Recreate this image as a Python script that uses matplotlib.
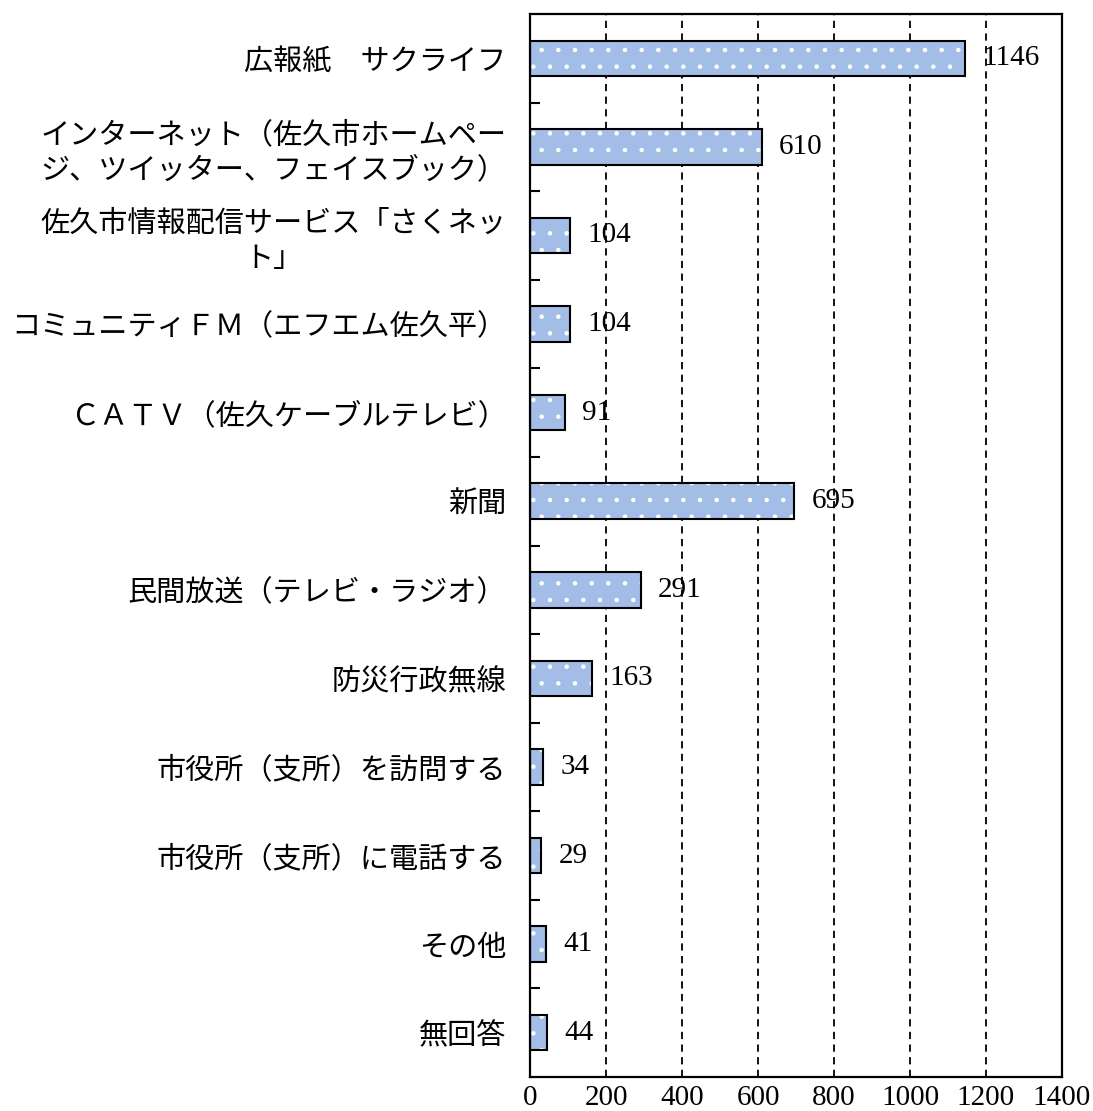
import numpy as np
import matplotlib.pyplot as plt
from matplotlib.ticker import FixedLocator

plt.rcParams['font.family'] = ['Liberation Serif', 'Noto Sans CJK JP']
plt.rcParams['hatch.linewidth'] = 0.8

# 情報の入手方法（複数回答）
categories = [
    "広報紙　サクライフ",
    "インターネット（佐久市ホームペー\nジ、ツイッター、フェイスブック）",
    "佐久市情報配信サービス「さくネッ\nト」",
    "コミュニティＦＭ（エフエム佐久平）",
    "ＣＡＴＶ（佐久ケーブルテレビ）",
    "新聞",
    "民間放送（テレビ・ラジオ）",
    "防災行政無線",
    "市役所（支所）を訪問する",
    "市役所（支所）に電話する",
    "その他",
    "無回答",
]
counts = [1146, 610, 104, 104, 91, 695, 291, 163, 34, 29, 41, 44]
xticks = [0, 200, 400, 600, 800, 1000, 1200, 1400]

fig = plt.figure(figsize=(10.93, 11.11), dpi=100)
ax = fig.add_axes([0.485, 0.0306, 0.4866, 0.9568])

y = np.arange(len(categories))
# pattern fill, then black outline on top
ax.barh(y, counts, height=0.4, color='#a3bde7', edgecolor='white',
        hatch='.', linewidth=0, zorder=2)
ax.barh(y, counts, height=0.4, fill=False, edgecolor='black',
        linewidth=1.5, zorder=3)

for yi, v in zip(y, counts):
    ax.annotate(str(v), (v, yi), xytext=(12.5, 0), textcoords='offset points',
                va='center', ha='left', fontsize=21, zorder=4)

ax.set_xlim(0, 1400)
ax.set_ylim(len(categories) - 0.5, -0.5)
ax.set_xticks(xticks)
ax.set_xticklabels([str(t) for t in xticks], fontsize=21)
ax.tick_params(axis='x', length=0, pad=6)

ax.set_yticks(y)
ax.set_yticklabels(categories, fontsize=21, family='Noto Sans CJK JP',
                   multialignment='center', linespacing=1.2)
ax.tick_params(axis='y', which='major', length=0, pad=17)
ax.yaxis.set_minor_locator(FixedLocator(np.arange(0.5, len(categories) - 1, 1)))
ax.tick_params(axis='y', which='minor', direction='in', length=7, width=1.5)

ax.grid(axis='x', linestyle=(0, (4, 3)), color='black', linewidth=1.3, zorder=1)
ax.set_axisbelow(True)
for s in ax.spines.values():
    s.set_linewidth(1.6)
    s.set_color('black')

fig.savefig('out.png', dpi=100)
